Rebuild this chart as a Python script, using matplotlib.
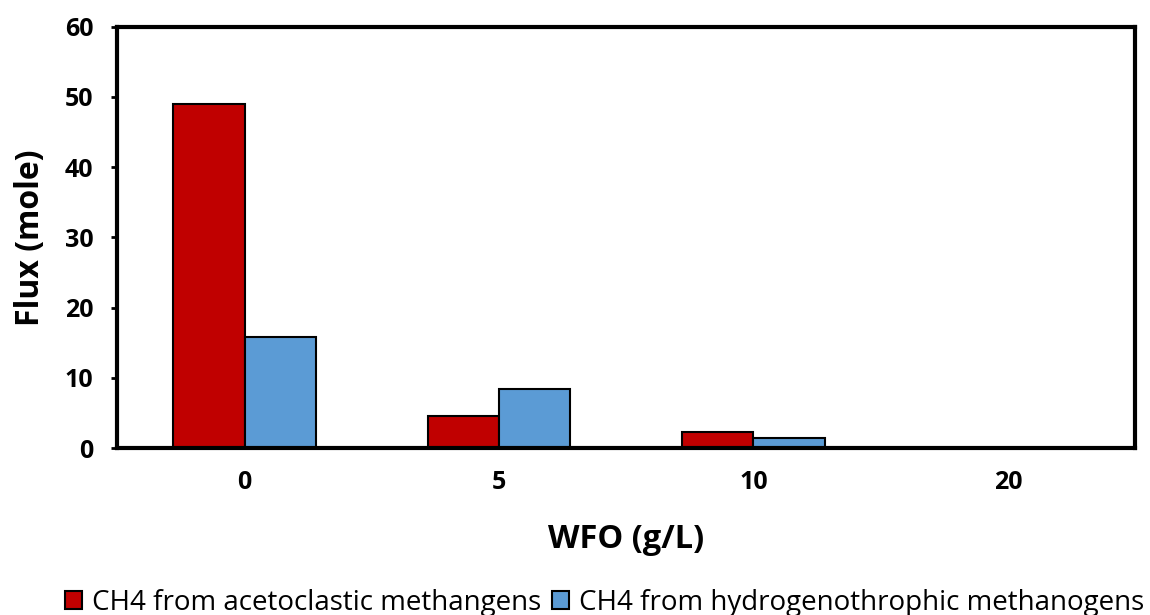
import matplotlib.pyplot as plt
import numpy as np

plt.rcParams['font.family'] = ['Open Sans', 'DejaVu Sans']

wfo = ['0', '5', '10', '20']
acetoclastic = [49.0, 4.6, 2.3, 0.0]
hydrogenotrophic = [15.8, 8.4, 1.4, 0.0]

fig = plt.figure(figsize=(11.5, 6.15), dpi=100)
ax = fig.add_axes([0.102, 0.2715, 0.885, 0.685])

index = np.arange(len(wfo))
width = 0.28
ax.bar(index - width / 2, acetoclastic, width=width, color='#c00000',
       edgecolor='k', linewidth=1.5, label='CH4 from acetoclastic methangens')
ax.bar(index + width / 2, hydrogenotrophic, width=width, color='#5b9bd5',
       edgecolor='k', linewidth=1.5, label='CH4 from hydrogenothrophic methanogens')

ax.set_xlim(-0.5, len(wfo) - 0.5)
ax.set_ylim(0, 60)
ax.set_yticks(range(0, 61, 10))
ax.set_xticks(index)
ax.set_xticklabels(wfo, fontsize=18, fontweight='bold')
ax.tick_params(axis='y', labelsize=18, width=2, length=4.3, direction='out', pad=13)
ax.tick_params(axis='x', length=0, pad=16)
for lbl in ax.get_yticklabels():
    lbl.set_fontweight('bold')
for sp in ax.spines.values():
    sp.set_linewidth(3)

ax.set_ylabel('Flux (mole)', fontsize=23, fontweight='bold', labelpad=13)
ax.set_xlabel('WFO (g/L)', fontsize=23.5, fontweight='bold', labelpad=20)

fig.legend(loc='center', bbox_to_anchor=(0.526, 0.02), ncol=2,
           frameon=False, handlelength=0.6, handleheight=0.6,
           handletextpad=0.37, columnspacing=0.4, borderpad=0.1,
           prop={'size': 20})

fig.savefig('out.png', dpi=100)
